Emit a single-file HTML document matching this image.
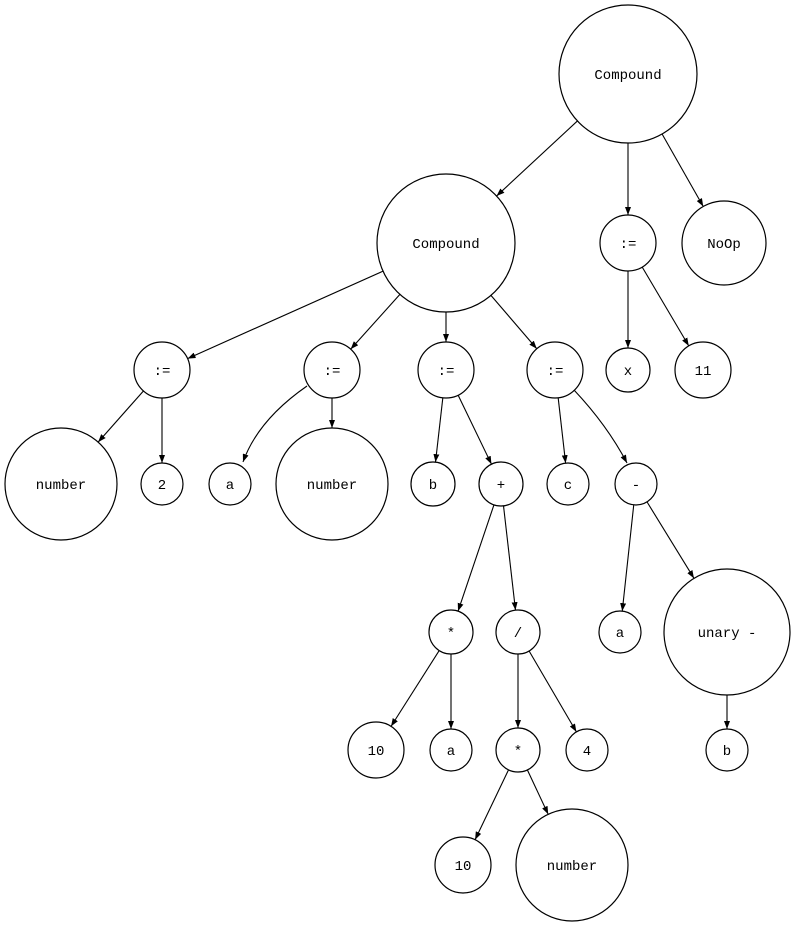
<!DOCTYPE html>
<html><head><meta charset="utf-8"><style>
html,body{margin:0;padding:0;background:#fff;}
svg{display:block;}
text{font-family:"Liberation Mono",monospace;font-size:14px;text-anchor:middle;dominant-baseline:central;fill:#000;}
circle{fill:#fff;stroke:#000;stroke-width:1.2;}
</style></head><body>
<svg id="s" width="796" height="927" viewBox="0 0 796 927">
<defs><marker id="ah" markerWidth="8" markerHeight="6" refX="8" refY="3" orient="auto" markerUnits="userSpaceOnUse"><path d="M0,0 L8,3 L0,6 z" fill="#000"/></marker></defs>
<g id="edges">
<path d="M307,386 Q258,420 243,462" fill="none" stroke="#000" stroke-width="1.1" marker-end="url(#ah)"/>
<path d="M574,390 Q607,425 627,463" fill="none" stroke="#000" stroke-width="1.1" marker-end="url(#ah)"/>
</g>
<g id="nodes" transform="translate(0,0)">
<circle cx="628" cy="74" r="69"/><text x="628" y="76">Compound</text>
<circle cx="446" cy="243" r="69"/><text x="446" y="245">Compound</text>
<circle cx="628" cy="243" r="28"/><text x="628" y="245">:=</text>
<circle cx="724" cy="243" r="42"/><text x="724" y="245">NoOp</text>
<circle cx="162" cy="370" r="28"/><text x="162" y="372">:=</text>
<circle cx="332" cy="370" r="28"/><text x="332" y="372">:=</text>
<circle cx="446" cy="370" r="28"/><text x="446" y="372">:=</text>
<circle cx="555" cy="370" r="28"/><text x="555" y="372">:=</text>
<circle cx="628" cy="370" r="22"/><text x="628" y="372">x</text>
<circle cx="703" cy="370" r="28"/><text x="703" y="372">11</text>
<circle cx="61" cy="484" r="56"/><text x="61" y="486">number</text>
<circle cx="162" cy="484" r="21"/><text x="162" y="486">2</text>
<circle cx="230" cy="484" r="21"/><text x="230" y="486">a</text>
<circle cx="332" cy="484" r="56"/><text x="332" y="486">number</text>
<circle cx="433" cy="484" r="22"/><text x="433" y="486">b</text>
<circle cx="501" cy="484" r="22"/><text x="501" y="486">+</text>
<circle cx="568" cy="484" r="21"/><text x="568" y="486">c</text>
<circle cx="636" cy="484" r="21"/><text x="636" y="486">-</text>
<circle cx="451" cy="632" r="22"/><text x="451" y="634">*</text>
<circle cx="518" cy="632" r="22"/><text x="518" y="634">/</text>
<circle cx="620" cy="632" r="21"/><text x="620" y="634">a</text>
<circle cx="727" cy="632" r="63"/><text x="727" y="634">unary -</text>
<circle cx="376" cy="750" r="28"/><text x="376" y="752">10</text>
<circle cx="451" cy="750" r="21"/><text x="451" y="752">a</text>
<circle cx="518" cy="750" r="22"/><text x="518" y="752">*</text>
<circle cx="587" cy="750" r="21"/><text x="587" y="752">4</text>
<circle cx="727" cy="750" r="21"/><text x="727" y="752">b</text>
<circle cx="463" cy="865" r="28"/><text x="463" y="867">10</text>
<circle cx="572" cy="865" r="56"/><text x="572" y="867">number</text>
</g>
</svg>
<script>
var N={c1:[628,74,69],c2:[446,243,69],a0:[628,243,28],noop:[724,243,42],
a1:[162,370,28],a2:[332,370,28],a3:[446,370,28],a4:[555,370,28],x:[628,370,22],n11:[703,370,28],
num1:[61,484,56],two:[162,484,21],aa:[230,484,21],num2:[332,484,56],b:[433,484,22],plus:[501,484,22],c:[568,484,21],minus:[636,484,21],
m1:[451,632,22],div:[518,632,22],a5:[620,632,21],un:[727,632,63],
t1:[376,750,28],a6:[451,750,21],m2:[518,750,22],four:[587,750,21],b2:[727,750,21],
t2:[463,865,28],num3:[572,865,56]};
var E=[["c1","c2"],["c1","a0"],["c1","noop"],["c2","a1"],["c2","a2"],["c2","a3"],["c2","a4"],["a0","x"],["a0","n11"],
["a1","num1"],["a1","two"],["a2","num2"],["a3","b"],["a3","plus"],["a4","c"],
["plus","m1"],["plus","div"],["minus","a5"],["minus","un"],["m1","t1"],["m1","a6"],["div","m2"],["div","four"],["un","b2"],["m2","t2"],["m2","num3"]];
var g=document.getElementById("edges"),ns="http://www.w3.org/2000/svg";
E.forEach(function(e){var p=N[e[0]],q=N[e[1]];var dx=q[0]-p[0],dy=q[1]-p[1],d=Math.sqrt(dx*dx+dy*dy);var ux=dx/d,uy=dy/d;
var l=document.createElementNS(ns,"line");l.setAttribute("x1",p[0]+ux*p[2]);l.setAttribute("y1",p[1]+uy*p[2]);
l.setAttribute("x2",q[0]-ux*q[2]);l.setAttribute("y2",q[1]-uy*q[2]);l.setAttribute("stroke","#000");l.setAttribute("stroke-width","1.1");
l.setAttribute("marker-end","url(#ah)");g.appendChild(l);});
</script>
</body></html>
